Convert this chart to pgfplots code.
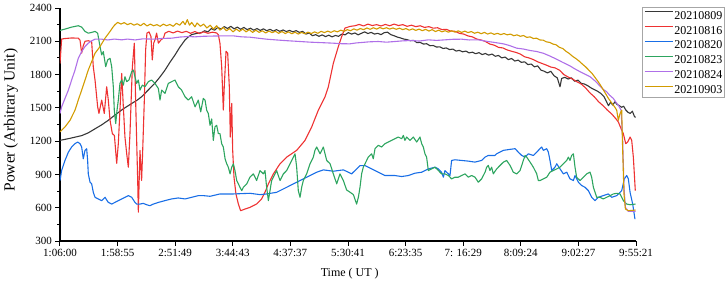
\documentclass[border=0pt]{standalone}
\usepackage{fontspec}
\setmainfont{Liberation Serif}
\usepackage{pgfplots}
\pgfplotsset{compat=1.18}
\definecolor{cBlack}{RGB}{55,55,55}
\definecolor{cRed}{RGB}{238,50,50}
\definecolor{cBlue}{RGB}{25,110,230}
\definecolor{cGreen}{RGB}{45,165,95}
\definecolor{cPurple}{RGB}{175,112,232}
\definecolor{cGold}{RGB}{210,155,0}
\begin{document}
\begin{tikzpicture}
\useasboundingbox (-60pt,-43pt) rectangle (665pt,241pt);
\begin{axis}[
  scale only axis, width=576pt, height=233pt,
  xmin=66, xmax=595.35, ymin=300, ymax=2400,
  axis lines*=left, axis line style={line width=1.3pt},
  tick align=outside, major tick length=4.5pt, minor tick length=2.5pt,
  tick style={line width=1pt, black},
  xtick={66,118.917,171.817,224.717,277.617,330.683,383.583,436.483,489.4,542.45,595.35},
  xticklabels={1:06:00,1:58:55,2:51:49,3:44:43,4:37:37,5:30:41,6:23:35,7: 16:29,8:09:24,9:02:27,9:55:21},
  ytick={300,600,...,2400}, minor y tick num=1,
  /pgf/number format/assume math mode=true,
  /pgf/number format/1000 sep={},
  tick label style={font=\fontsize{11}{13}\selectfont},
  xlabel={Time ( UT )}, ylabel={Power (Arbitrary Unit)},
  xlabel style={font=\fontsize{12}{14}\selectfont, at={(axis description cs:0.503,-0.1416)}, anchor=center},
  ylabel style={font=\fontsize{15.5}{18}\selectfont, at={(axis description cs:-0.085,0.519)}, anchor=center},
  legend style={at={(axis description cs:1.0099,1.0056)}, anchor=north west, draw=gray!70, line width=0.6pt, font=\fontsize{12}{14}\selectfont, inner xsep=2.3pt, inner ysep=3.6pt, row sep=6.3pt, column sep=1pt, nodes={inner sep=0pt, text height=8.6pt, text depth=0pt}, cells={anchor=west}},
  legend image code/.code={\draw[#1, line width=1.1pt] (0pt,3.2pt) -- (28pt,3.2pt);},
  every axis plot/.append style={line width=1.1pt, no markers, line join=round},
]
% 20210809
\addplot[cBlack] coordinates {
(66,1207)(75,1225)(86,1250)(92,1275)(98,1310)(104,1345)(110,1385)(116.5,1435)(124,1490)(132,1540)(137,1570)(141,1600)(147,1660)(153,1720)(158,1780)(162.5,1840)(167,1910)(171.7,1977)(176,2045)(181,2113)(184,2140)(187,2160)(192,2172)(196,2178)(199,2195)(202,2185)(205,2215)(208,2200)(211,2225)(214,2210)(217,2232)(220,2215)(223,2235)(226,2212)(229,2228)(232,2208)(235,2225)(238,2205)(241,2218)(244,2200)(247,2215)(250,2198)(253,2212)(256,2195)(259,2208)(262,2192)(265,2205)(268,2190)(271,2202)(274,2188)(277,2198)(280,2185)(283,2196)(286,2180)(289,2190)(292,2165)(295,2175)(298,2150)(301,2160)(304,2145)(307,2158)(310,2142)(313,2155)(316,2140)(319,2152)(322,2145)(325,2165)(328,2158)(331,2178)(334,2165)(337,2175)(340,2158)(343,2172)(346,2185)(349,2170)(352,2180)(355,2165)(358,2172)(361,2160)(364,2178)(367,2182)(370,2160)(373,2150)(376,2138)(379,2130)(382,2120)(385,2115)(388,2105)(391,2108)(394,2088)(397,2090)(400,2075)(403,2078)(406,2060)(409,2062)(412,2048)(415,2050)(418,2035)(421,2040)(424,2025)(427,2030)(430,2012)(433,2018)(436,2005)(439,2012)(442,1995)(445,2002)(448,1988)(451,1998)(454,1980)(457,1990)(460,1975)(463,1985)(466,1965)(469,1972)(472,1950)(475,1958)(478,1935)(481,1945)(484,1922)(487,1930)(490,1910)(493,1915)(496,1890)(499,1895)(502,1870)(505,1878)(508,1840)(511,1830)(514,1815)(517,1830)(520,1790)(523,1770)(525.5,1690)(527,1765)(530,1775)(533,1760)(536,1770)(539,1740)(542,1750)(545,1720)(548,1715)(551,1700)(554,1680)(557,1665)(560,1650)(563,1630)(566,1600)(568,1560)(570,1520)(572,1550)(574,1525)(576,1555)(578,1530)(580,1520)(582,1505)(584,1515)(586,1480)(588,1460)(590,1450)(592,1470)(594,1420)(595,1415)
};
\addlegendentry{20210809}
% 20210816
\addplot[cRed] coordinates {
(66,1900)(67.5,2120)(70.6,2125)(76.7,2130)(82.8,2128)(84.4,2110)(85.9,1993)(87.4,2060)(89,2100)(92,2105)(95.1,2095)(96.6,1870)(98.2,1750)(100.6,1510)(101.8,1450)(104.3,1570)(106.7,1450)(108.9,1690)(110.4,1570)(112,1388)(114.1,1268)(116,1250)(118.1,1000)(119.6,1177)(121.1,1480)(122.7,1810)(124.2,1510)(125.7,1237)(127.3,1087)(128.8,965)(130.3,1268)(132.5,1870)(134.3,2083)(135.5,1570)(137.4,845)(138,560)(139.5,1117)(141,845)(142,1117)(143.5,1570)(144.7,2022)(145.9,2173)(147.8,2185)(149.6,2143)(150.8,1932)(152.1,2083)(153.3,2113)(154.8,2173)(156.4,2083)(158.8,2113)(161,2128)(162.5,2173)(166,2190)(170,2175)(174,2192)(178,2178)(182,2190)(186,2172)(190,2188)(194,2170)(198,2185)(202,2172)(206,2182)(210,2175)(211.5,2160)(213,2083)(214.6,1870)(216.1,1480)(217,1700)(218.6,2010)(220.1,1993)(221.6,1690)(222.5,1237)(223.8,1540)(224.7,1117)(225.9,875)(227.7,724)(229.9,634)(232,573)(236,588)(240.6,603)(246.7,634)(251.3,679)(254.4,740)(257.5,815)(262.1,905)(268.2,996)(274.3,1056)(283.5,1117)(291.2,1207)(297.3,1328)(303.4,1479)(309.6,1600)(312.6,1690)(317.2,1902)(321.8,2053)(324.9,2143)(327.9,2219)(332.5,2234)(337,2240)(341,2252)(345,2238)(349,2255)(353,2242)(357,2250)(361,2238)(365,2252)(369,2240)(373,2255)(377,2242)(381,2250)(385,2235)(389,2245)(393,2232)(397,2240)(401,2225)(405,2232)(409,2218)(413,2222)(417,2205)(421,2208)(425,2192)(429,2190)(433,2172)(437,2165)(441,2148)(445,2140)(449,2120)(453,2112)(457,2098)(461,2075)(465,2065)(469,2045)(473,2040)(477,2022)(481,2010)(485,2000)(489,1985)(493,1960)(497,1950)(501,1935)(505,1915)(509,1900)(513,1885)(517,1868)(521,1860)(525,1840)(529,1800)(533,1778)(537,1760)(541,1735)(545,1715)(549,1680)(553,1635)(557,1600)(561,1555)(565,1520)(569,1480)(573,1445)(577,1400)(579.1,1373)(581.6,1313)(583.7,1268)(585.9,1177)(587.7,1192)(589.9,1237)(591.4,1207)(592.9,1056)(594.7,754)
};
\addlegendentry{20210816}
% 20210820
\addplot[cBlue] coordinates {
(66,845)(67.5,935)(70.6,1026)(73.7,1101)(76.7,1147)(79.8,1177)(82.2,1192)(84.4,1177)(85.9,1147)(87.4,1041)(89,1117)(90.5,1132)(91.4,1026)(92,905)(93.6,830)(95.1,815)(96.6,739)(98.2,694)(101.2,679)(104.3,664)(107.4,694)(108.9,670)(110.4,648)(113.5,633)(116.5,648)(119.6,664)(122.7,679)(125.7,694)(128.8,709)(131.9,694)(134.9,648)(136.4,633)(139.5,633)(142.6,639)(145.6,627)(148.7,618)(151.8,633)(156.4,648)(162.5,664)(168.6,679)(174.7,688)(180.9,679)(187,694)(193.1,709)(197.7,709)(203.9,703)(213,724)(225.3,724)(240.6,730)(249.8,718)(255.9,724)(265.1,739)(274.3,784)(283.5,830)(292.7,875)(301.9,920)(308,941)(317.2,929)(326.4,941)(331,920)(334,905)(337.1,935)(341.7,980)(346.3,980)(352.4,950)(358.5,920)(364.7,890)(373.8,890)(380,881)(386.1,890)(392.2,911)(398.4,920)(404.5,950)(410.6,965)(413.7,950)(416.7,920)(418.3,875)(419.8,935)(422.9,905)(424.4,890)(425.9,1026)(429,1032)(435.1,1026)(441.2,1020)(447.4,1011)(453.5,1026)(456.6,1056)(459.6,1071)(465.7,1071)(467.3,1086)(473.5,1117)(479.6,1126)(484.2,1132)(487.2,1101)(490.3,1071)(493.4,1056)(496.4,1086)(501,1071)(504.1,1101)(507.1,1132)(508.7,1147)(510.2,1117)(513.3,1132)(514.8,1101)(516.3,1026)(517.9,935)(520.9,965)(522.5,996)(525.5,950)(528.6,905)(531.7,920)(534.7,860)(537.8,845)(539.3,890)(542.4,830)(545.4,800)(548.5,784)(551.6,754)(554.6,694)(557.7,664)(560.8,694)(565.3,709)(569.9,724)(573,694)(577.6,709)(582.2,754)(584.6,860)(586.8,890)(588.3,860)(589.9,739)(592.3,633)(594.4,497)
};
\addlegendentry{20210820}
% 20210823
\addplot[cGreen] coordinates {
(66,2198)(70.6,2210)(76.7,2228)(82.8,2240)(85.9,2228)(89,2189)(92,2173)(95.1,2180)(98.2,2189)(100.6,2173)(102.8,2053)(104.3,1977)(105.8,2007)(108,1871)(109.8,1932)(112,1947)(113.5,1871)(115,1690)(115.9,1479)(117.2,1358)(118.4,1479)(119.6,1570)(121.1,1720)(122.7,1751)(124.2,1705)(125.7,1781)(127.3,1736)(129.4,1751)(131.9,1826)(133.4,1841)(134.9,1781)(136.4,1720)(138,1751)(139.5,1660)(141.7,1705)(144.1,1690)(147.2,1736)(150.2,1751)(153.3,1720)(156.4,1675)(157.9,1570)(159.4,1660)(162.5,1630)(165.5,1720)(168.6,1736)(171.7,1751)(174.7,1690)(177.8,1660)(180.9,1600)(183.9,1570)(187,1600)(190.1,1509)(193.1,1570)(195.3,1464)(197.7,1585)(199.3,1570)(200.8,1479)(202.3,1450)(203.9,1343)(205.4,1400)(206.9,1207)(208.4,1328)(210,1343)(211.5,1268)(213,1268)(214.6,1177)(216.1,1147)(217.7,1041)(219.2,996)(220.7,965)(222.3,905)(223.8,965)(225.3,996)(226.8,935)(228.4,845)(229.9,815)(231.4,784)(233,754)(234.5,784)(237.6,815)(240.6,875)(243.7,905)(246.7,845)(249.8,935)(252.9,905)(254.4,935)(255.9,784)(257.5,664)(259,754)(260.5,845)(262.1,875)(265.1,935)(268.2,845)(271.3,905)(274.3,935)(277.4,996)(280.5,1056)(282,1086)(283.5,965)(285,754)(286.6,694)(288.1,784)(289.6,845)(292.7,905)(295.8,996)(298.8,1056)(300.3,1117)(301.9,1147)(305,1086)(308,1147)(311.1,1026)(314.2,996)(317.2,905)(320.3,815)(323.3,905)(326.4,845)(329.4,760)(332.5,740)(335.6,718)(338.6,633)(340.2,694)(341.7,784)(343.2,905)(344.7,965)(346.3,996)(349.3,1056)(352.4,1086)(353.9,1041)(355.5,1132)(358.5,1162)(361.6,1147)(364.7,1177)(367.7,1192)(370.8,1207)(373.8,1222)(376.9,1237)(380,1222)(381.5,1252)(383,1207)(384.6,1237)(387.6,1207)(390.7,1237)(393.8,1192)(396.8,1237)(398.4,1177)(399.9,1147)(401.4,1086)(402.9,1056)(404.5,935)(407.5,950)(410.6,965)(413.7,935)(416.7,905)(419.8,905)(422.9,890)(425.9,860)(429,875)(432,875)(435.1,890)(438.2,905)(441.2,875)(444.3,890)(447.4,875)(450.4,830)(453.5,860)(456.6,920)(458.1,965)(459.6,981)(461.1,935)(462.7,965)(464.2,905)(467.3,950)(470.4,981)(473.5,1011)(476.5,1026)(479.6,981)(482.6,920)(485.7,905)(488.8,935)(491.8,1026)(493.4,1071)(494.9,1056)(498,1011)(501,965)(504.1,905)(505.6,845)(507.1,845)(510.2,860)(513.3,875)(516.3,920)(519.4,935)(522.5,950)(525.5,965)(528.6,996)(531.7,1026)(533.2,1056)(534.7,1026)(536.2,1071)(537.8,1086)(539.3,965)(540.8,875)(543.9,845)(547,875)(550,905)(553.1,920)(554.6,875)(556.2,784)(559.2,694)(562.3,694)(565.3,679)(568.4,694)(571.5,709)(574.5,724)(577.6,730)(580.7,724)(582.2,694)(583.7,664)(586.8,633)(589.9,627)(595,633)
};
\addlegendentry{20210823}
% 20210824
\addplot[cPurple] coordinates {
(66,1449)(67.5,1509)(70.6,1585)(73.7,1660)(76.7,1751)(79.8,1841)(82.8,1947)(85.9,2007)(89,2053)(92,2083)(95.1,2104)(98.2,2119)(104.3,2119)(110,2112)(116,2120)(122.7,2113)(128,2120)(135,2112)(142,2122)(153.3,2119)(160,2126)(168.6,2128)(176,2138)(183.9,2143)(190,2140)(197.7,2145)(210,2148)(225.3,2149)(233,2140)(240.6,2137)(248,2128)(255.9,2119)(265,2112)(275,2105)(286.6,2098)(296,2092)(306,2088)(317.2,2083)(325,2078)(332.5,2077)(338,2085)(343.2,2089)(350,2095)(358.5,2098)(366,2092)(373.8,2098)(381,2104)(389.2,2107)(396,2102)(404.5,2113)(412,2108)(419.8,2113)(427,2118)(435.1,2119)(442,2112)(450.4,2113)(458,2100)(465.7,2089)(473.5,2077)(479,2062)(485.7,2038)(492,2030)(498,2017)(504,2008)(510.2,1992)(516,1968)(522.5,1938)(528,1910)(534.7,1878)(539,1852)(543.9,1826)(548,1806)(553.1,1781)(558,1740)(562.3,1696)(565,1668)(568.4,1645)(571,1615)(574.5,1585)(577,1550)(579.1,1524)(581.6,1479)(583.1,1207)(584.3,785)(585.6,603)(588.3,567)(595,567)
};
\addlegendentry{20210824}
% 20210903
\addplot[cGold] coordinates {
(66,1283)(70.6,1328)(75.2,1388)(79.8,1479)(82.8,1570)(85.9,1660)(89,1751)(92,1841)(95.1,1917)(98.2,1992)(102.8,2053)(107.4,2128)(112,2189)(114.5,2225)(116.5,2249)(119,2270)(122,2255)(125,2268)(128,2250)(131,2262)(134,2245)(137,2258)(140,2240)(143,2262)(146,2238)(149,2255)(152,2240)(155,2250)(158,2235)(161,2255)(164,2240)(167,2252)(170,2235)(173,2262)(176,2245)(179,2280)(181,2250)(183,2295)(185,2245)(187,2270)(190,2230)(192,2265)(195,2235)(198,2255)(201,2220)(204,2245)(207,2210)(210,2240)(213,2200)(216,2225)(219,2195)(222,2215)(225,2185)(228,2210)(231,2190)(234,2210)(237,2185)(240,2205)(243,2180)(246,2200)(249,2180)(252,2195)(255,2175)(258,2192)(261,2178)(264,2190)(267,2172)(270,2188)(273,2170)(276,2185)(279,2168)(282,2182)(285,2165)(288,2180)(291,2168)(294,2182)(297,2170)(300,2185)(303,2172)(306,2190)(309,2178)(312,2192)(315,2180)(318,2195)(321,2185)(324,2200)(327,2190)(330,2205)(333,2195)(336,2212)(339,2200)(342,2215)(345,2205)(348,2220)(351,2208)(354,2222)(357,2210)(360,2224)(363,2212)(366,2222)(369,2210)(372,2220)(375,2208)(378,2218)(381,2205)(384,2215)(387,2200)(390,2212)(393,2198)(396,2210)(399,2195)(402,2208)(405,2192)(408,2205)(411,2188)(414,2200)(417,2185)(420,2195)(423,2182)(426,2195)(429,2182)(432,2194)(435,2180)(438,2192)(441,2178)(444,2188)(447,2172)(450,2182)(453,2168)(456,2180)(459,2165)(462,2176)(465,2162)(468,2172)(471,2160)(474,2170)(477,2158)(480,2165)(483,2150)(486,2158)(489,2145)(492,2152)(495,2135)(498,2140)(501,2125)(504,2128)(507,2112)(510,2110)(513,2095)(516,2090)(519,2075)(522,2068)(525,2045)(528,2035)(531,2010)(534,1990)(537,1965)(540,1945)(543,1922)(546,1895)(549,1870)(552,1840)(555,1810)(558,1770)(561,1730)(564,1684)(567,1635)(570,1585)(573,1545)(576,1505)(577.6,1479)(579.1,1388)(580.7,1449)(582.2,1479)(583.1,1117)(584.3,724)(585.6,588)(588.3,573)(595,579)
};
\addlegendentry{20210903}
\end{axis}
\end{tikzpicture}
\end{document}
